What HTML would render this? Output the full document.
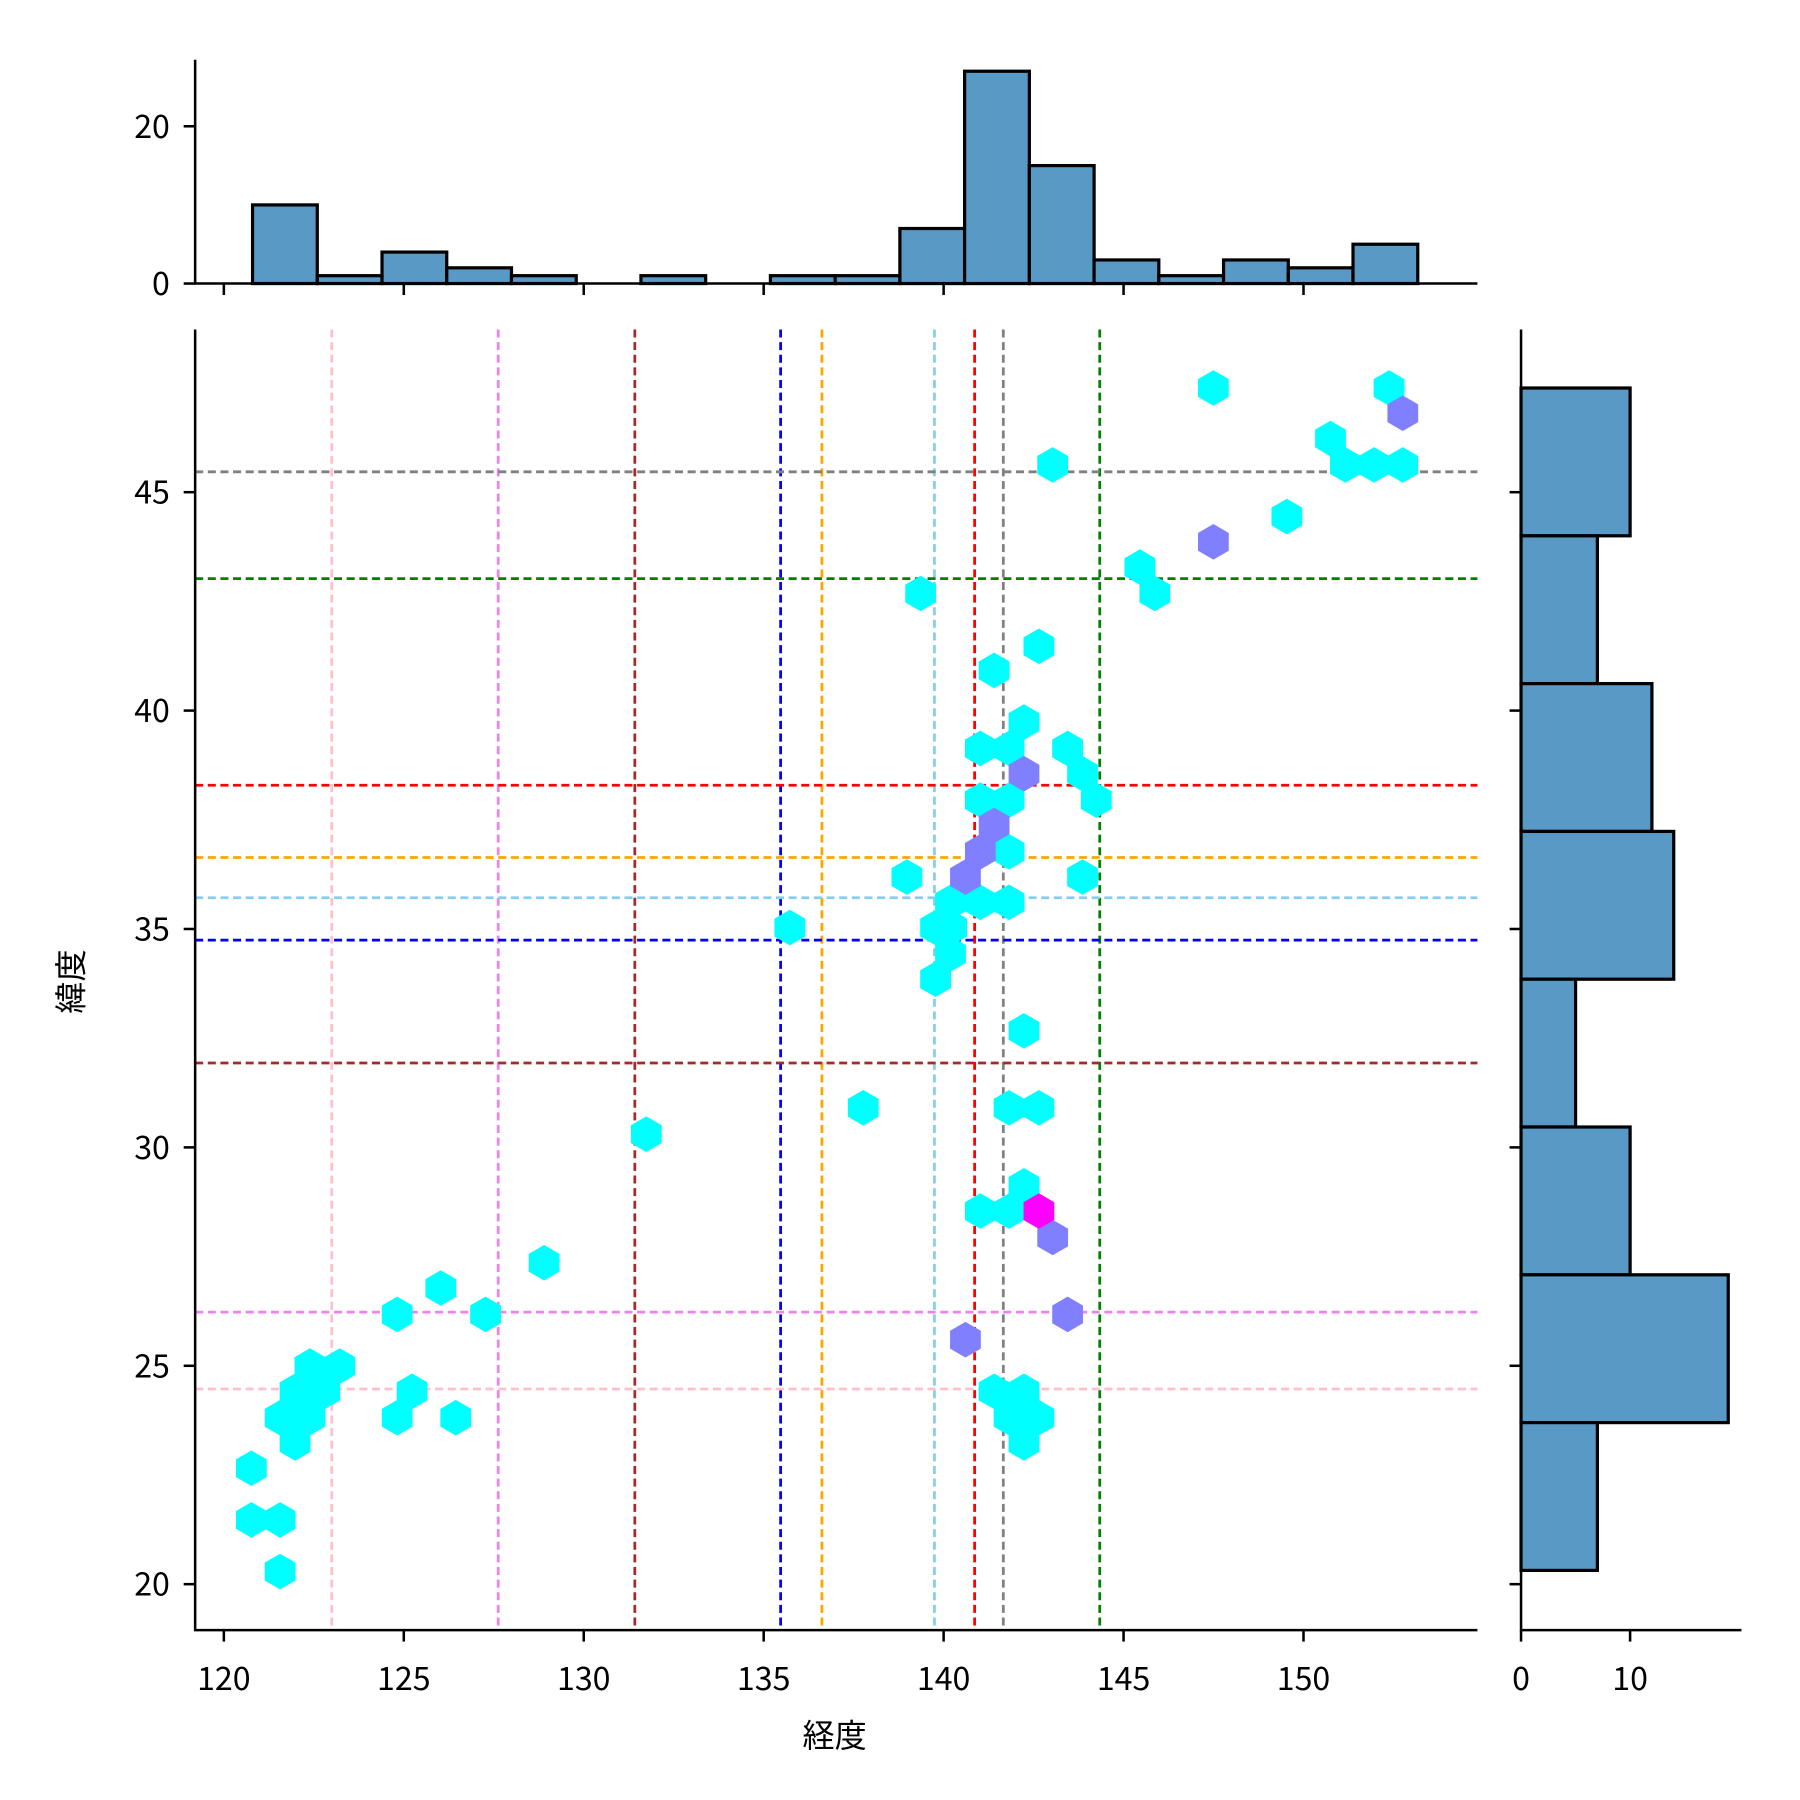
<!DOCTYPE html>
<html><head><meta charset="utf-8"><style>html,body{margin:0;padding:0;background:#fff}svg{display:block}</style></head><body>
<svg width="1800" height="1800" viewBox="0 0 1568 1568" xmlns="http://www.w3.org/2000/svg" font-family="Noto Sans CJK JP, Liberation Sans, sans-serif">
<defs><polygon id="h" points="0,-15.5 13.4,-7.75 13.4,7.75 0,15.5 -13.4,7.75 -13.4,-7.75"/></defs>
<g id="top" fill="#5899c6" stroke="#000" stroke-width="2.8"></g>
<g id="right" fill="#5899c6" stroke="#000" stroke-width="2.8"></g>
<g id="lines" stroke-width="2.4" stroke-dasharray="7,4" fill="none"></g>
<g id="hex"></g>
<g stroke="#000" stroke-width="2.2" fill="none">
<path d="M170,52V247H1287"/>
<path d="M170,287V1420H1287"/>
<path d="M1325,287V1420H1517"/>
</g>
<g id="ticks" stroke="#000" stroke-width="2.2"></g>
<g id="labels" font-size="28" fill="#000"></g>
<text x="727" y="1522" font-size="28" text-anchor="middle">経度</text>
<text transform="translate(72,855) rotate(-90)" font-size="28" text-anchor="middle">緯度</text>
<script>
var NS="http://www.w3.org/2000/svg";
function el(p,t,a,txt){var e=document.createElementNS(NS,t);for(var k in a)e.setAttribute(k,a[k]);if(txt!==undefined)e.textContent=txt;document.getElementById(p).appendChild(e);}
var th=[10,1,4,2,1,0,1,0,1,1,7,27,15,3,1,3,2,5];
for(var i=0;i<18;i++){var x=220+i*56.39,h=th[i]*6.85;el("top","rect",{x:x,y:247-h,width:56.39,height:h});}
var rh=[10,7,12,14,5,10,19,7];
for(var i=0;i<8;i++){var y=338+i*128.75;el("right","rect",{x:1325,y:y,width:rh[i]*9.5,height:128.75});}
var vl=[[289,"pink"],[434,"violet"],[553,"brown"],[680,"blue"],[716,"orange"],[814,"skyblue"],[849,"red"],[874,"gray"],[958,"green"]];
vl.forEach(function(v){el("lines","line",{x1:v[0],x2:v[0],y1:287,y2:1420,stroke:v[1]});});
var hl=[[411,"gray"],[504,"green"],[684,"red"],[747,"orange"],[782,"skyblue"],[819,"blue"],[926,"brown"],[1143,"violet"],[1210,"pink"]];
hl.forEach(function(v){el("lines","line",{x1:170,x2:1287,y1:v[0],y2:v[0],stroke:v[1]});});
var cy=[[1057,338],[1210,338],[917,405],[1159,382],[1172,405],[1197,405],[1222,405],[1121,450],[993,494],[1006,517],[802,517],[905,563],[866,584],[892,629],[854,652],[879,652],[930,652],[943,674],[955,697],[854,697],[879,697],[879,742],[790,764],[943,764],[828,786],[854,786],[879,786],[815,808],[829,808],[828,831],[815,853],[688,808],[892,898],[752,965],[879,965],[905,965],[563,988],[892,1033],[854,1055],[879,1055],[474,1100],[384,1122],[346,1145],[423,1145],[270,1190],[296,1190],[257,1212],[283,1212],[359,1212],[244,1235],[270,1235],[346,1235],[397,1235],[257,1257],[866,1212],[892,1212],[879,1235],[905,1235],[892,1257],[219,1279],[219,1324],[244,1324],[244,1369]];
cy.forEach(function(p){el("hex","use",{href:"#h",x:p[0],y:p[1],fill:"#00ffff"});});
var pu=[[1222,360],[1057,472],[892,674],[866,719],[854,742],[841,764],[917,1078],[930,1145],[841,1167]];
pu.forEach(function(p){el("hex","use",{href:"#h",x:p[0],y:p[1],fill:"#8080ff"});});
el("hex","use",{href:"#h",x:905,y:1055,fill:"#ff00ff"});
for(var i=0;i<7;i++){var x=195+i*156.75;el("ticks","line",{x1:x,x2:x,y1:1420,y2:1430});el("ticks","line",{x1:x,x2:x,y1:247,y2:257});el("labels","text",{x:x,y:1472,"text-anchor":"middle"},String(120+5*i));}
for(var i=0;i<6;i++){var y=1380-i*190.25;el("ticks","line",{x1:160,x2:170,y1:y,y2:y});el("ticks","line",{x1:1315,x2:1325,y1:y,y2:y});el("labels","text",{x:148,y:y+10,"text-anchor":"end"},String(20+5*i));}
[[247,"0"],[110,"20"]].forEach(function(v){el("ticks","line",{x1:160,x2:170,y1:v[0],y2:v[0]});el("labels","text",{x:148,y:v[0]+10,"text-anchor":"end"},v[1]);});
[[1325,"0"],[1420,"10"]].forEach(function(v){el("ticks","line",{x1:v[0],x2:v[0],y1:1420,y2:1430});el("labels","text",{x:v[0],y:1472,"text-anchor":"middle"},v[1]);});
</script>
</svg>
</body></html>
